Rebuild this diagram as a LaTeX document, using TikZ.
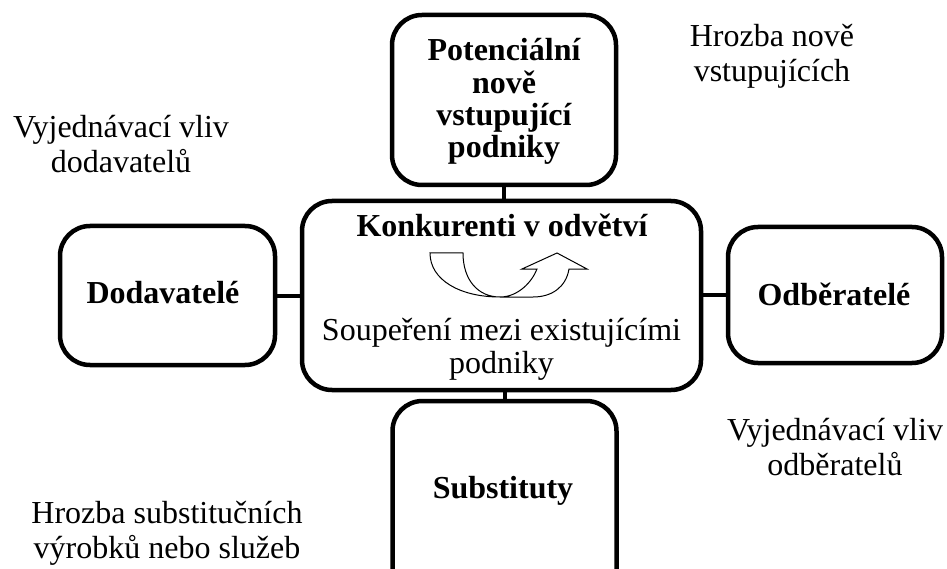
\documentclass[tikz,border=0pt]{standalone}
\usepackage{fontspec}
\setmainfont{Liberation Serif}
\begin{document}
\begin{tikzpicture}[x=1pt,y=-1pt,
  box/.style={draw, line width=4.5pt, rounded corners=30pt, inner sep=0pt, outer sep=0pt, fill=white},
  link/.style={line width=4pt},
  boxlabel/.style={font=\fontsize{32}{32}\selectfont\bfseries, align=center, inner sep=0pt},
  note/.style={font=\fontsize{32}{35}\selectfont, align=center, inner sep=0pt},
  uarrow/.style={draw=black, line width=1pt, fill=white, line join=miter}]
\useasboundingbox (0,0) rectangle (947,569);
\clip (0,0) rectangle (947,569);

% boxes
\node[box, minimum width=224pt, minimum height=170pt] (top) at (504,100) {};
\node[box, minimum width=399pt, minimum height=189pt] (mid) at (501.5,295.5) {};
\node[box, minimum width=215pt, minimum height=139pt] (left) at (167.5,295.5) {};
\node[box, minimum width=214pt, minimum height=136pt] (right) at (835,295) {};
\node[box, minimum width=224pt, minimum height=200pt] (bottom) at (504.5,501) {};

% connectors
\draw[link] (top.south) -- (top.south |- mid.north);
\draw[link] (left.east) -- (left.east -| mid.west);
\draw[link] (right.west) -- (right.west -| mid.east);
\draw[link] (bottom.north) -- (bottom.north |- mid.south);

% box labels
\node[boxlabel] (toplabel) at (504,103) {Potenciální\strut\\nově\strut\\vstupující\strut\\podniky\strut};
\node[boxlabel, anchor=base] (midtitle) at (502,237) {Konkurenti v odvětví};
\node[note, font=\fontsize{32}{33}\selectfont] (midtext) at (501.5,350.4) {Soupeření mezi existujícími\strut\\podniky\strut};
\node[boxlabel, anchor=base] (leftlabel) at (163,303) {Dodavatelé};
\node[boxlabel, anchor=base] (rightlabel) at (834,305) {Odběratelé};
\node[boxlabel, anchor=base] (bottomlabel) at (503,498) {Substituty};

% outside notes
\node[note] (n1) at (121,148.5) {Vyjednávací vliv\strut\\dodavatelů\strut};
\node[note] (n2) at (772,56.7) {Hrozba nově\strut\\vstupujících\strut};
\node[note] (n3) at (835,450.5) {Vyjednávací vliv\strut\\odběratelů\strut};
\node[note] (n4) at (167,533.8) {Hrozba substitučních\strut\\výrobků nebo služeb\strut};

% U-turn arrow
\draw[uarrow] (430,253) -- (463,253)
  .. controls (463,280) and (478,297) .. (500,297)
  .. controls (518,297) and (532,282) .. (537,269)
  -- (522,269) -- (557,253) -- (587,269) -- (569,269)
  .. controls (566,287) and (552,297) .. (533,297)
  -- (500,297)
  .. controls (460,297) and (430,280) .. cycle;
\end{tikzpicture}
\end{document}
